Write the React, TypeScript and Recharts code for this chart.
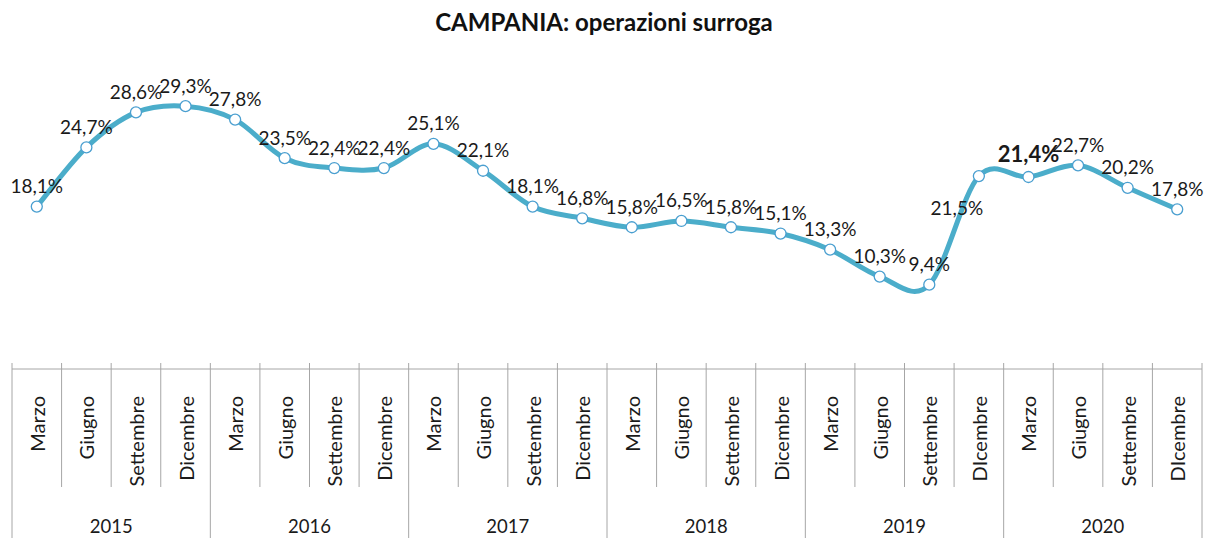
import { ComposedChart, Line, XAxis, YAxis, LabelList } from 'recharts';

const quarters = [
  'Marzo', 'Giugno', 'Settembre', 'Dicembre',
  'Marzo', 'Giugno', 'Settembre', 'Dicembre',
  'Marzo', 'Giugno', 'Settembre', 'Dicembre',
  'Marzo', 'Giugno', 'Settembre', 'Dicembre',
  'Marzo', 'Giugno', 'Settembre', 'DIcembre',
  'Marzo', 'Giugno', 'Settembre', 'DIcembre',
];
const years = ['2015', '2016', '2017', '2018', '2019', '2020'];
const surroga = [
  18.1, 24.7, 28.6, 29.3, 27.8, 23.5, 22.4, 22.4, 25.1, 22.1, 18.1, 16.8,
  15.8, 16.5, 15.8, 15.1, 13.3, 10.3, 9.4, 21.5, 21.4, 22.7, 20.2, 17.8,
];

const data = quarters.map((q, i) => ({
  key: `${i}`,
  quarter: q,
  year: years[Math.floor(i / 4)],
  value: surroga[i],
}));

const BLUE = '#4badca';
const GRID = '#a6a6a6';
const FONT = 'Lato, "Open Sans", sans-serif';
const AXIS_Y = 369;
const BW = (1202 - 12) / 24;

// Excel-like smoothed line (Catmull-Rom)
function smoothCurve(context: any) {
  let xs: number[] = [];
  let ys: number[] = [];
  return {
    areaStart() {},
    areaEnd() {},
    lineStart() {
      xs = [];
      ys = [];
    },
    point(x: number, y: number) {
      xs.push(+x);
      ys.push(+y);
    },
    lineEnd() {
      const n = xs.length;
      if (!n) return;
      context.moveTo(xs[0], ys[0]);
      for (let i = 0; i < n - 1; i++) {
        const x0 = i > 0 ? xs[i - 1] : xs[i];
        const y0 = i > 0 ? ys[i - 1] : ys[i];
        const x3 = i + 2 < n ? xs[i + 2] : xs[i + 1];
        const y3 = i + 2 < n ? ys[i + 2] : ys[i + 1];
        context.bezierCurveTo(
          xs[i] + (xs[i + 1] - x0) / 6,
          ys[i] + (ys[i + 1] - y0) / 6,
          xs[i + 1] - (x3 - xs[i]) / 6,
          ys[i + 1] - (y3 - ys[i]) / 6,
          xs[i + 1],
          ys[i + 1]
        );
      }
    },
  };
}

function QuarterTick(props: any) {
  const { x, index, payload } = props;
  const left = x - BW / 2;
  const right = x + BW / 2;
  const yearStart = index % 4 === 0;
  const last = index === quarters.length - 1;
  return (
    <g>
      <line x1={left} x2={left} y1={AXIS_Y - 6} y2={yearStart ? 538 : 487} stroke={GRID} strokeWidth={1} />
      {last && <line x1={right} x2={right} y1={AXIS_Y - 6} y2={538} stroke={GRID} strokeWidth={1} />}
      <text
        x={x}
        y={396}
        transform={`rotate(-90 ${x} 396)`}
        textAnchor="end"
        dominantBaseline="central"
        fontFamily={FONT}
        fontSize={20}
        fill="#1a1a1a"
      >
        {payload.value}
      </text>
      {index % 4 === 1 && (
        <text x={right} y={526} textAnchor="middle" dominantBaseline="central" fontFamily={FONT} fontSize={18.5} fill="#1a1a1a">
          {data[index].year}
        </text>
      )}
    </g>
  );
}

function ValueLabel(props: any) {
  const { x, y, index, value } = props;
  let dx = 0;
  let dy = -21;
  let bold = false;
  if (index === 19) {
    dx = -22;
    dy = 31;
  }
  if (index === 20) {
    bold = true;
    dy = -24;
  }
  return (
    <text
      x={x + dx}
      y={y + dy}
      textAnchor="middle"
      dominantBaseline="central"
      fontFamily={FONT}
      fontSize={bold ? 22 : 19}
      fontWeight={bold ? 700 : 400}
      fill="#1a1a1a"
    >
      {String(value).replace('.', ',')}%
    </text>
  );
}

export default function App() {
  return (
    <div style={{ position: 'absolute', left: 0, top: 0, width: 1208, height: 538, background: '#fff' }}>
      <div
        style={{
          position: 'absolute',
          top: 7,
          left: 0,
          width: 1208,
          textAlign: 'center',
          fontFamily: FONT,
          fontWeight: 700,
          fontSize: 24,
          color: '#111',
        }}
      >
        CAMPANIA: operazioni surroga
      </div>
      <ComposedChart width={1208} height={538} data={data} margin={{ top: 55, right: 6, left: 12, bottom: 0 }}>
        <XAxis
          dataKey="key"
          height={169}
          interval={0}
          tickLine={false}
          padding={{ left: BW / 2, right: BW / 2 }}
          axisLine={{ stroke: GRID }}
          tick={(p: any) => <QuarterTick {...p} payload={{ value: quarters[p.index] }} />}
        />
        <YAxis hide domain={[0, 35]} />
        <Line
          dataKey="value"
          type={smoothCurve as any}
          stroke={BLUE}
          strokeWidth={5}
          dot={{ r: 5.5, fill: '#fff', stroke: '#4a9fd0', strokeWidth: 1.3 }}
          isAnimationActive={false}
        >
          <LabelList dataKey="value" content={(p: any) => <ValueLabel {...p} />} />
        </Line>
      </ComposedChart>
    </div>
  );
}
